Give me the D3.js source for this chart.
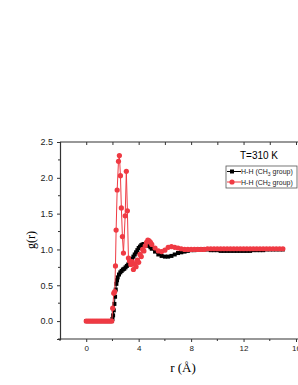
<!DOCTYPE html>
<html>
<head>
<meta charset="utf-8">
<script src="https://d3js.org/d3.v7.min.js"></script>
<style>
  body { margin: 0; background: #fff; }
</style>
</head>
<body>
<script>
const w = 298;
const h = 385;

// H-H (CH3 group)
const rCH3 = [0, 0.15, 0.3, 0.45, 0.6, 0.75, 0.9, 1.05, 1.2, 1.35, 1.5, 1.65, 1.8, 1.95,
  2.0, 2.05, 2.1, 2.15, 2.2, 2.25, 2.3, 2.35, 2.4, 2.5, 2.6, 2.7, 2.8, 2.9, 3.0, 3.1, 3.2,
  3.3, 3.4, 3.5, 3.6, 3.7, 3.8, 3.9, 4.0, 4.1, 4.2, 4.3, 4.4, 4.5, 4.6, 4.7, 4.8, 4.9,
  5.0, 5.25, 5.5, 5.75, 6.0, 6.25, 6.5, 6.75, 7.0, 7.25, 7.5, 7.75, 8.0, 8.25, 8.5, 8.75,
  9.0, 9.25, 9.5, 9.75, 10.0, 10.25, 10.5, 10.75, 11.0, 11.25, 11.5, 11.75, 12.0, 12.25,
  12.5, 12.75, 13.0, 13.25, 13.5, 13.75, 14.0, 14.25, 14.5, 14.75, 15.0];
const gCH3 = [0, 0, 0, 0, 0, 0, 0, 0, 0, 0, 0, 0, 0, 0,
  0.03, 0.08, 0.15, 0.24, 0.34, 0.44, 0.52, 0.57, 0.61, 0.65, 0.68, 0.70, 0.72, 0.73, 0.75, 0.77, 0.79,
  0.81, 0.84, 0.87, 0.90, 0.93, 0.96, 0.99, 1.02, 1.04, 1.06, 1.07, 1.075, 1.075, 1.07, 1.06, 1.05, 1.03,
  1.01, 0.97, 0.93, 0.91, 0.90, 0.90, 0.91, 0.93, 0.95, 0.96, 0.97, 0.98, 0.99, 0.99, 1.0, 1.0,
  1.0, 1.0, 0.99, 0.99, 0.99, 0.98, 0.98, 0.98, 0.98, 0.98, 0.98, 0.98, 0.98, 0.98,
  0.98, 0.99, 0.99, 0.99, 0.99, 1.0, 1.0, 1.0, 1.0, 1.0, 1.0];

// H-H (CH2 group)
const rCH2 = [0, 0.15, 0.3, 0.45, 0.6, 0.75, 0.9, 1.05, 1.2, 1.35, 1.5, 1.65, 1.8, 1.95,
  2.02, 2.1, 2.17, 2.23, 2.28, 2.36, 2.46, 2.53, 2.61, 2.68, 2.76, 2.84, 2.97, 3.06, 3.14, 3.22,
  3.3, 3.4, 3.5, 3.6, 3.7, 3.8, 3.9, 4.0, 4.1, 4.2, 4.3, 4.4, 4.5, 4.6, 4.7, 4.8, 4.9,
  5.0, 5.25, 5.5, 5.75, 6.0, 6.25, 6.5, 6.75, 7.0, 7.25, 7.5, 7.75, 8.0, 8.25, 8.5, 8.75,
  9.0, 9.25, 9.5, 9.75, 10.0, 10.25, 10.5, 10.75, 11.0, 11.25, 11.5, 11.75, 12.0, 12.25,
  12.5, 12.75, 13.0, 13.25, 13.5, 13.75, 14.0, 14.25, 14.5, 14.75, 15.0];
const gCH2 = [0, 0, 0, 0, 0, 0, 0, 0, 0, 0, 0, 0, 0, 0,
  0.18, 0.39, 0.41, 0.77, 1.27, 1.83, 2.23, 2.31, 2.03, 1.58, 1.18, 0.95, 1.47, 2.09, 1.54, 0.88,
  0.84, 0.79, 0.83, 0.72, 0.80, 0.76, 0.85, 0.82, 0.93, 0.90, 1.00, 0.98, 1.05, 1.10, 1.13, 1.12, 1.10,
  1.07, 1.02, 0.98, 0.97, 0.99, 1.03, 1.04, 1.03, 1.02, 1.01, 1.0, 1.0, 1.0, 1.0, 1.0, 1.0,
  1.0, 1.01, 1.01, 1.01, 1.01, 1.01, 1.01, 1.01, 1.01, 1.01, 1.01, 1.01, 1.01, 1.01,
  1.01, 1.01, 1.01, 1.01, 1.01, 1.01, 1.01, 1.01, 1.01, 1.01, 1.01];

const xTicks = [0, 4, 8, 12, 16];
const xMinor = [-2, 2, 6, 10, 14];
const yTicks = [0.0, 0.5, 1.0, 1.5, 2.0, 2.5];
const yMinor = [-0.25, 0.25, 0.75, 1.25, 1.75, 2.25];

const black = '#000000';
const red = '#ef3a43';
const axisCol = '#333333';

const svg = d3.select('body').append('svg').attr('width', w).attr('height', h);

const x = d3.scaleLinear().domain([-2, 16]).range([60, 296]);
const y = d3.scaleLinear().domain([-0.25, 2.5]).range([339, 142]);

const ch3 = rCH3.map((r, i) => ({r: r, g: gCH3[i]}));
const ch2 = rCH2.map((r, i) => ({r: r, g: gCH2[i]}));

const line = d3.line().x(d => x(d.r)).y(d => y(d.g));

// black series
svg.append('path').datum(ch3)
  .attr('d', line).attr('fill', 'none').attr('stroke', black).attr('stroke-width', 1);
svg.append('g').selectAll('rect')
  .data(ch3).enter().append('rect')
  .attr('x', d => x(d.r) - 2)
  .attr('y', d => y(d.g) - 2)
  .attr('width', 4).attr('height', 4)
  .attr('fill', black);

// red series
svg.append('path').datum(ch2)
  .attr('d', line).attr('fill', 'none').attr('stroke', red).attr('stroke-width', 1);
svg.append('g').selectAll('circle')
  .data(ch2).enter().append('circle')
  .attr('cx', d => x(d.r))
  .attr('cy', d => y(d.g))
  .attr('r', 2.6)
  .attr('fill', red);

// axes
const bottomAxis = svg.append('g').attr('transform', 'translate(0,339)')
  .call(d3.axisBottom(x).tickValues(xTicks).tickFormat(d3.format('d')).tickSize(3).tickPadding(3));
bottomAxis.append('g').selectAll('line').data(xMinor).enter().append('line')
  .attr('x1', d => x(d)).attr('x2', d => x(d)).attr('y1', 0).attr('y2', 2)
  .attr('stroke', axisCol);

const leftAxis = svg.append('g').attr('transform', 'translate(60,0)')
  .call(d3.axisLeft(y).tickValues(yTicks).tickFormat(d3.format('.1f')).tickSize(3).tickPadding(4));
leftAxis.append('g').selectAll('line').data(yMinor).enter().append('line')
  .attr('x1', 0).attr('x2', -2).attr('y1', d => y(d)).attr('y2', d => y(d))
  .attr('stroke', axisCol);

const topAxis = svg.append('g').attr('transform', 'translate(0,142)')
  .call(d3.axisTop(x).tickValues(xTicks.concat(xMinor)).tickFormat('').tickSize(-3));

[bottomAxis, leftAxis, topAxis].forEach(a => {
  a.select('.domain').attr('stroke', axisCol).attr('stroke-width', 1.2);
  a.selectAll('.tick line').attr('stroke', axisCol);
  a.selectAll('text').attr('font-family', 'Liberation Sans, Arial, sans-serif').attr('fill', '#222');
});
bottomAxis.selectAll('text').attr('font-size', 8);
leftAxis.selectAll('text').attr('font-size', 9);
bottomAxis.select('.domain').attr('d', 'M60,0H298');
topAxis.select('.domain').attr('d', 'M60,0H298');

// axis titles
svg.append('text')
  .attr('x', 183).attr('y', 372)
  .attr('text-anchor', 'middle')
  .attr('font-family', 'Liberation Serif, Times New Roman, serif')
  .attr('font-size', 13)
  .text('r (Å)');

svg.append('text')
  .attr('transform', 'translate(35,240) rotate(-90)')
  .attr('text-anchor', 'middle')
  .attr('font-family', 'Liberation Serif, Times New Roman, serif')
  .attr('font-size', 12)
  .text('g(r)');

// title
svg.append('text')
  .attr('x', 259).attr('y', 159)
  .attr('text-anchor', 'middle')
  .attr('font-family', 'Liberation Sans, Arial, sans-serif')
  .attr('font-size', 10)
  .text('T=310 K');

// legend
const lg = svg.append('g').attr('font-family', 'Liberation Sans, Arial, sans-serif').attr('font-size', 7);
lg.append('rect')
  .attr('x', 226).attr('y', 166).attr('width', 71).attr('height', 22)
  .attr('fill', '#fff').attr('stroke', '#555').attr('stroke-width', 0.8);

const items = [
  {sub: '3', color: black, shape: 'square', cy: 171.5},
  {sub: '2', color: red, shape: 'circle', cy: 182}
];
items.forEach(it => {
  lg.append('line')
    .attr('x1', 227).attr('x2', 241).attr('y1', it.cy).attr('y2', it.cy)
    .attr('stroke', it.color).attr('stroke-width', 1);
  if (it.shape === 'square') {
    lg.append('rect').attr('x', 230).attr('y', it.cy - 2).attr('width', 4).attr('height', 4).attr('fill', it.color);
  } else {
    lg.append('circle').attr('cx', 232).attr('cy', it.cy).attr('r', 2.6).attr('fill', it.color);
  }
  const t = lg.append('text').attr('x', 241).attr('y', it.cy + 2.5).attr('fill', '#222');
  t.append('tspan').text('H-H (CH');
  t.append('tspan').attr('font-size', 5).attr('dy', 1.5).text(it.sub);
  t.append('tspan').attr('dy', -1.5).text(' group)');
});
</script>
</body>
</html>
